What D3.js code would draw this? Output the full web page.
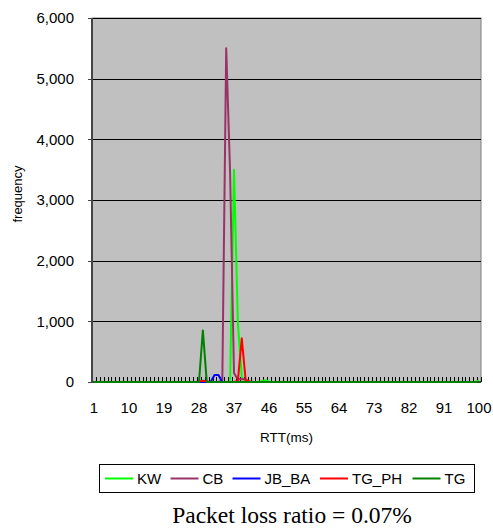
<!DOCTYPE html>
<html>
<head>
<meta charset="utf-8">
<script src="https://cdn.jsdelivr.net/npm/d3@7"></script>
<style>
  body { margin: 0; background: #fff; }
  svg { display: block; font-family: "Liberation Sans", Arial, sans-serif; }
</style>
</head>
<body>
<svg id="chart" width="493" height="531"></svg>
<script>
// RTT categories 1..100 ms
var rtt = d3.range(1, 101);
var xLabels = [1, 10, 19, 28, 37, 46, 55, 64, 73, 82, 91, 100];
var yTicks = [0, 1000, 2000, 3000, 4000, 5000, 6000];

// non-zero counts as [rtt, frequency]; everything else reads as 0
var kwCounts = [[36, 0], [37, 3500], [38, 970], [39, 80], [40, 10], [44, 10], [45, 30], [46, 10], [100, 20]];
var cbCounts = [[34, 30], [35, 5500], [36, 3450], [37, 150], [38, 40], [39, 50], [40, 40], [41, 10]];
var jbbaCounts = [[32, 115], [33, 115]];
var tgphCounts = [[28, 10], [29, 20], [30, 10], [38, 20], [39, 720], [40, 30], [41, 10]];
var tgCounts = [[29, 850]];

var seriesNames = ['KW', 'CB', 'JB_BA', 'TG_PH', 'TG'];
var seriesColors = ['#00ff00', '#993366', '#0000ff', '#ff0000', '#008000'];
var seriesCounts = [kwCounts, cbCounts, jbbaCounts, tgphCounts, tgCounts];

function expand(pairs) {
  var m = new Map(pairs);
  return rtt.map(function(r) { return {x: r, y: m.has(r) ? m.get(r) : 0}; });
}

var margins = {top: 18, left: 92, right: 12, bottom: 149};
var width = 493, height = 531;
var w = 481 - margins.left, h = 382 - margins.top;

var svg = d3.select('#chart');
var g = svg.append('g')
    .attr('transform', 'translate(' + margins.left + ',' + margins.top + ')');

var x = d3.scaleBand().domain(rtt).range([0, w]);
var y = d3.scaleLinear().domain([0, 6000]).range([h, 0]);

// plot area
g.append('rect')
    .attr('width', w).attr('height', h)
    .attr('fill', '#c0c0c0')
    .attr('stroke', '#808080').attr('stroke-width', 1);

// gridlines
g.selectAll('.grid').data(yTicks.filter(function(d) { return d > 0; }))
  .enter().append('line')
    .attr('x1', 0).attr('x2', w)
    .attr('y1', function(d) { return Math.round(y(d)) + 0.5; })
    .attr('y2', function(d) { return Math.round(y(d)) + 0.5; })
    .attr('stroke', '#000').attr('stroke-width', 1);

// category tick marks (inside)
var bounds = rtt.map(function(r) { return x(r); }).concat([w]);
g.selectAll('.ctick').data(bounds)
  .enter().append('line')
    .attr('x1', function(d) { return Math.round(d) + 0.5; })
    .attr('x2', function(d) { return Math.round(d) + 0.5; })
    .attr('y1', h - 5).attr('y2', h)
    .attr('stroke', '#000').attr('stroke-width', 1);

// y axis
g.append('line')
    .attr('x1', 0).attr('x2', 0).attr('y1', 0).attr('y2', h)
    .attr('stroke', '#444').attr('stroke-width', 2);
g.selectAll('.ytick').data(yTicks)
  .enter().append('line')
    .attr('x1', -4).attr('x2', 0)
    .attr('y1', function(d) { return Math.round(y(d)) + 0.5; })
    .attr('y2', function(d) { return Math.round(y(d)) + 0.5; })
    .attr('stroke', '#444');
g.selectAll('.ylab').data(yTicks)
  .enter().append('text')
    .attr('x', -18)
    .attr('y', function(d) { return y(d); })
    .attr('dy', '0.36em')
    .attr('text-anchor', 'end')
    .style('font-size', '15px')
    .text(d3.format(','));

// x axis line
g.append('line')
    .attr('x1', 0).attr('x2', w).attr('y1', h).attr('y2', h)
    .attr('stroke', '#444').attr('stroke-width', 2);

g.selectAll('.xlab').data(xLabels)
  .enter().append('text')
    .attr('x', function(d) { return x(d) + x.bandwidth() / 2; })
    .attr('y', h + 31)
    .attr('text-anchor', 'middle')
    .style('font-size', '15px')
    .text(function(d) { return d; });

// lines
var line = d3.line()
    .x(function(d) { return x(d.x) + x.bandwidth() / 2; })
    .y(function(d) { return y(d.y); });

seriesCounts.forEach(function(c, i) {
  g.append('path')
      .datum(expand(c))
      .attr('d', line)
      .attr('fill', 'none')
      .attr('stroke', seriesColors[i])
      .attr('stroke-width', 2)
      .attr('stroke-linejoin', 'round');
});

// axis titles
svg.append('text')
    .attr('transform', 'translate(22,' + (margins.top + h / 2 - 6) + ') rotate(-90)')
    .attr('text-anchor', 'middle')
    .style('font-size', '13px')
    .text('frequency');
svg.append('text')
    .attr('x', margins.left + w / 2)
    .attr('y', 442)
    .attr('text-anchor', 'middle')
    .style('font-size', '13.5px')
    .text('RTT(ms)');

// legend
var legend = svg.append('g');
legend.append('rect')
    .attr('x', 99.5).attr('y', 464.5).attr('width', 375).attr('height', 28)
    .attr('fill', '#fff').attr('stroke', '#000');
var legendX = [105, 170.5, 232.5, 320, 412.5];
seriesNames.forEach(function(n, i) {
  legend.append('line')
      .attr('x1', legendX[i]).attr('x2', legendX[i] + 28)
      .attr('y1', 478.5).attr('y2', 478.5)
      .attr('stroke', seriesColors[i]).attr('stroke-width', 2);
  legend.append('text')
      .attr('x', legendX[i] + 32)
      .attr('y', 484)
      .style('font-size', '15px')
      .text(n);
});

svg.append('text')
    .attr('x', 292)
    .attr('y', 523)
    .attr('text-anchor', 'middle')
    .style('font-family', '"Liberation Serif", "Times New Roman", serif')
    .style('font-size', '23.5px')
    .text('Packet loss ratio = 0.07%');
</script>
</body>
</html>
